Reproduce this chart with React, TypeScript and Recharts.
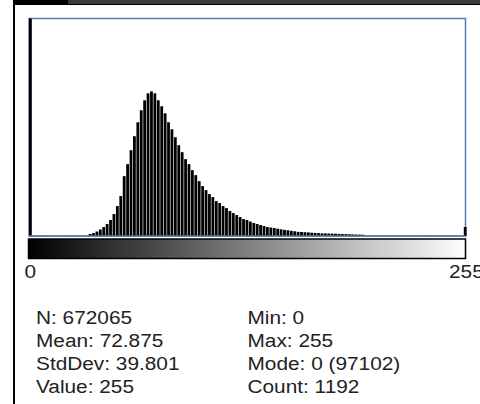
import React from "react";
import { BarChart, Bar, XAxis, YAxis } from "recharts";

// ---- data (ImageJ-style 8-bit histogram) ----
const binCount = 256;
const modeBin = 0;
const modeCount = 97102;
const lastBin = 255;
const lastBinCount = 1192;
// populated bins: every other bin, starting at 35
const firstPopulatedBin = 35;
const populatedStep = 2;
const populatedCounts = [
  264, 396, 594, 858, 1188, 1584, 2112, 2904, 3960, 5280,
  7920, 9504, 11352, 13200, 15048, 16632, 17952, 18876, 19140, 18876,
  17952, 17160, 16236, 15048, 14124, 13068, 12012, 11088, 10164, 9504,
  8712, 8052, 7260, 6600, 6072, 5544, 5148, 4620, 4356, 3960,
  3696, 3300, 3036, 2772, 2508, 2244, 2112, 1914, 1716, 1584,
  1452, 1320, 1188, 1122, 1056, 964, 884, 818, 752, 686,
  620, 554, 528, 502, 475, 436, 409, 383, 356, 343,
  330, 317, 304, 277, 264, 251, 238, 211, 198, 185,
  172,
];
const yAxisMax = 28776;
const axisLabels = ["0", "255"];
const statsLeft = ["N: 672065", "Mean: 72.875", "StdDev: 39.801", "Value: 255"];
const statsRight = ["Min: 0", "Max: 255", "Mode: 0 (97102)", "Count: 1192"];

const histData = Array.from({ length: binCount }, (_, i) => ({ bin: i, count: 0 }));
histData[modeBin].count = modeCount;
populatedCounts.forEach((c, k) => {
  histData[firstPopulatedBin + k * populatedStep].count = c;
});
histData[lastBin].count = lastBinCount;

const FONT = "'Liberation Sans', Arial, sans-serif";
const FS = 18.6;
const SX = 1.12;

function StretchText({ x, y, children }: { x: number; y: number; children: string }) {
  return (
    <text
      x={0}
      y={0}
      transform={`translate(${x},${y}) scale(${SX},1)`}
      fontFamily={FONT}
      fontSize={FS}
      fill="#222"
    >
      {children}
    </text>
  );
}

// ImageJ draws each bin as a ~2.4px-wide column; widen the library's bar a little
function HistBar(props: any) {
  const { x, y, width, height, background } = props;
  if (!height || height <= 0) return null;
  const band = background && background.width ? background.width : width;
  const w = band * 1.4;
  return <rect x={x} y={y} width={w} height={height} fill="#000" />;
}

export default function App() {
  const W = 480;
  const H = 404;
  const plotLeft = 29;
  const plotTop = 18.5;
  const plotRight = 465.5;
  const plotBottom = 236;
  return (
    <div style={{ position: "absolute", left: 0, top: 0, width: W, height: H, background: "#fff", overflow: "hidden" }}>
      <svg width={W} height={H} style={{ position: "absolute", left: 0, top: 0 }}>
        <rect
          x={plotLeft}
          y={plotTop}
          width={plotRight - plotLeft}
          height={plotBottom - plotTop}
          fill="none"
          stroke="#5b77b3"
          strokeWidth={1.5}
        />
      </svg>
      <div style={{ position: "absolute", left: 0, top: 0 }}>
        <BarChart
          width={W}
          height={H}
          data={histData}
          margin={{ top: plotTop, left: plotLeft, right: W - plotRight, bottom: H - plotBottom }}
          barCategoryGap={0}
          barGap={0}
        >
          <XAxis dataKey="bin" type="category" hide />
          <YAxis type="number" domain={[0, yAxisMax]} allowDataOverflow hide />
          <Bar dataKey="count" fill="#000" shape={HistBar} isAnimationActive={false} />
        </BarChart>
      </div>
      <svg width={W} height={H} style={{ position: "absolute", left: 0, top: 0 }}>
        <defs>
          <linearGradient id="lut" x1="0" y1="0" x2="1" y2="0">
            <stop offset="0" stopColor="#000" />
            <stop offset="1" stopColor="#fff" />
          </linearGradient>
        </defs>
        <rect x={13} y={0} width={W - 13} height={5} fill="#000" />
        <rect x={68} y={0} width={W - 68} height={4} fill="#3a3a3a" />
        <rect x={13} y={0} width={2} height={H} fill="#000" />
        <line x1={plotLeft} y1={plotBottom} x2={plotRight} y2={plotBottom} stroke="#5b77b3" strokeWidth={1.5} />
        <rect x={28.5} y={239} width={437} height={19.5} fill="url(#lut)" stroke="#000" strokeWidth={1.5} />
        <StretchText x={24.5} y={278}>{axisLabels[0]}</StretchText>
        <StretchText x={449} y={278}>{axisLabels[1]}</StretchText>
        {statsLeft.map((s, i) => (
          <StretchText key={"l" + i} x={36} y={323.5 + i * 23}>{s}</StretchText>
        ))}
        {statsRight.map((s, i) => (
          <StretchText key={"r" + i} x={247.5} y={323.5 + i * 23}>{s}</StretchText>
        ))}
      </svg>
    </div>
  );
}
